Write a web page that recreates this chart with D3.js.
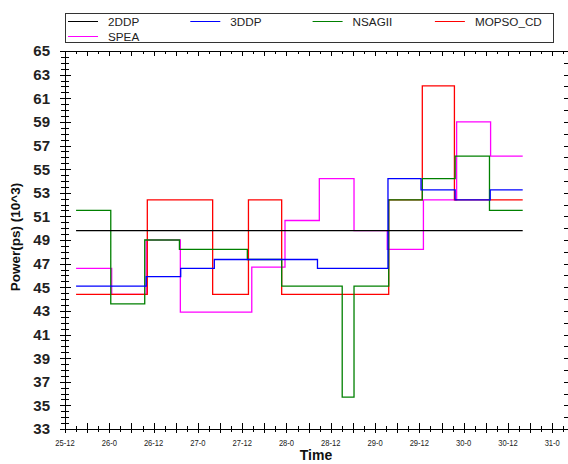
<!DOCTYPE html>
<html>
<head>
<meta charset="utf-8">
<script src="https://cdn.jsdelivr.net/npm/d3@7"></script>
<style>
  body { margin: 0; background: #fff; }
  svg { display: block; font-family: "Liberation Sans", Arial, sans-serif; }
</style>
</head>
<body>
<div id="chart"></div>
<script>
// Series names and colours, in legend order
const seriesNames = ["2DDP", "3DDP", "NSAGII", "MOPSO_CD", "SPEA"];
const seriesColors = ["#000000", "#0000ff", "#008000", "#ff0000", "#ff00ff"];

// Step lines: change times (hours after 25-12) and the level held from each time.
// The last time only closes the line.
const ddp2Times = [3.0, 124.0];
const ddp2Values = [49.8];
const ddp3Times = [3.0, 22.0, 31.35, 40.45, 68.4, 87.5, 96.45, 105.7, 115.2, 124.0];
const ddp3Values = [45.1, 45.9, 46.6, 47.35, 46.6, 54.2, 53.25, 52.4, 53.25];
const nsagaTimes = [3.0, 12.4, 21.6, 31.0, 49.4, 58.7, 75.1, 78.3, 87.7, 96.8, 105.7, 115.0, 124.0];
const nsagaValues = [51.5, 43.6, 49.0, 48.2, 47.35, 45.1, 35.7, 45.1, 52.4, 54.2, 56.1, 51.5];
const mopsoTimes = [3.0, 22.3, 40.0, 49.7, 58.7, 87.7, 96.8, 105.5, 124.0];
const mopsoValues = [44.4, 52.4, 44.4, 52.4, 44.4, 52.4, 62.05, 52.4];
const speaTimes = [3.0, 12.65, 22.0, 31.25, 50.6, 59.6, 68.9, 78.3, 87.3, 97.1, 106.1, 115.3, 124.0];
const speaValues = [46.6, 44.4, 49.0, 42.9, 46.7, 50.65, 54.2, 49.8, 48.2, 52.4, 59.0, 56.1];

// Axis ticks
const xTickHours = [0, 12, 24, 36, 48, 60, 72, 84, 96, 108, 120, 132];
const xTickLabels = ["25-12", "26-0", "26-12", "27-0", "27-12", "28-0", "28-12", "29-0", "29-12", "30-0", "30-12", "31-0"];
const yTickLabels = [33, 35, 37, 39, 41, 43, 45, 47, 49, 51, 53, 55, 57, 59, 61, 63, 65];

const W = 568, H = 464;
const plot = { left: 65, right: 567, top: 51, bottom: 429 };

const svg = d3.select("#chart").append("svg")
    .attr("width", W)
    .attr("height", H);

const x = d3.scaleLinear().domain([0, 136]).range([plot.left, plot.right]);
const y = d3.scaleLinear().domain([33, 65]).range([plot.bottom, plot.top]);

// Build series list
const series = [
    { times: ddp2Times, values: ddp2Values },
    { times: ddp3Times, values: ddp3Values },
    { times: nsagaTimes, values: nsagaValues },
    { times: mopsoTimes, values: mopsoValues },
    { times: speaTimes, values: speaValues }
].map((s, i) => ({
    name: seriesNames[i],
    color: seriesColors[i],
    points: s.times.map((t, j) => [t, s.values[Math.min(j, s.values.length - 1)]])
}));

const line = d3.line()
    .x(d => x(d[0]))
    .y(d => y(d[1]))
    .curve(d3.curveStepAfter);

// SPEA sits underneath, 2DDP on top
svg.append("g").selectAll("path")
    .data(series.slice().reverse())
    .enter()
    .append("path")
    .attr("d", d => line(d.points))
    .attr("fill", "none")
    .attr("stroke", d => d.color)
    .attr("stroke-width", 1.3);

// Axis lines
const axes = svg.append("g").attr("stroke", "#000").attr("stroke-width", 1).attr("shape-rendering", "crispEdges");
axes.append("line").attr("x1", plot.left).attr("x2", plot.left).attr("y1", plot.top).attr("y2", plot.bottom);
axes.append("line").attr("x1", plot.left).attr("x2", plot.right).attr("y1", plot.bottom).attr("y2", plot.bottom);
axes.append("line").attr("x1", plot.left - 4).attr("x2", plot.right).attr("y1", plot.top).attr("y2", plot.top);

// Left axis ticks every 0.5, crossing the axis
const yTicks = d3.range(33, 65.01, 0.5);
axes.selectAll(".ytick")
    .data(yTicks)
    .enter()
    .append("line")
    .attr("x1", d => yTickLabels.includes(d) ? plot.left - 5 : plot.left - 4)
    .attr("x2", d => yTickLabels.includes(d) ? plot.left + 6 : plot.left + 4)
    .attr("y1", d => Math.round(y(d)) + 0.5)
    .attr("y2", d => Math.round(y(d)) + 0.5);

// Right axis ticks every unit
axes.selectAll(".rtick")
    .data(d3.range(33, 65.01, 1))
    .enter()
    .append("line")
    .attr("x1", plot.right - 3)
    .attr("x2", W)
    .attr("y1", d => Math.round(y(d)) + 0.5)
    .attr("y2", d => Math.round(y(d)) + 0.5);

// Bottom and top ticks every 3 hours
const xTicks = d3.range(0, 136.01, 3);
axes.selectAll(".xtick")
    .data(xTicks)
    .enter()
    .append("line")
    .attr("x1", d => Math.round(x(d)) + 0.5)
    .attr("x2", d => Math.round(x(d)) + 0.5)
    .attr("y1", d => d % 6 === 0 ? plot.bottom - 6 : plot.bottom - 3)
    .attr("y2", d => d % 6 === 0 ? plot.bottom + 4 : plot.bottom + 3);

axes.selectAll(".ttick")
    .data(xTicks.filter(d => d > 0))
    .enter()
    .append("line")
    .attr("x1", d => Math.round(x(d)) + 0.5)
    .attr("x2", d => Math.round(x(d)) + 0.5)
    .attr("y1", plot.top)
    .attr("y2", d => d % 6 === 0 ? plot.top + 5 : plot.top + 3);

// Y tick labels
svg.append("g").selectAll("text")
    .data(yTickLabels)
    .enter()
    .append("text")
    .attr("x", 50)
    .attr("y", d => y(d))
    .attr("dy", "0.36em")
    .attr("text-anchor", "end")
    .attr("font-size", 15)
    .attr("font-weight", "bold")
    .attr("fill", "#222")
    .text(d => d);

// X tick labels (narrow)
svg.append("g").selectAll("text")
    .data(xTickHours)
    .enter()
    .append("text")
    .attr("transform", d => `translate(${x(d)},446) scale(0.8,1)`)
    .attr("text-anchor", "middle")
    .attr("font-size", 9.5)
    .attr("fill", "#222")
    .text((d, i) => xTickLabels[i]);

// Axis titles
svg.append("text")
    .attr("x", (plot.left + plot.right) / 2)
    .attr("y", 460)
    .attr("text-anchor", "middle")
    .attr("font-size", 14)
    .attr("font-weight", "bold")
    .attr("fill", "#111")
    .text("Time");

svg.append("text")
    .attr("transform", "translate(20,237) rotate(-90)")
    .attr("text-anchor", "middle")
    .attr("font-size", 13.5)
    .attr("font-weight", "bold")
    .attr("fill", "#111")
    .text("Power(ps) (10^3)");

// Legend
const legend = svg.append("g");
legend.append("rect")
    .attr("x", 65.5)
    .attr("y", 13.5)
    .attr("width", 488)
    .attr("height", 29)
    .attr("fill", "#fff")
    .attr("stroke", "#333");

const items = legend.selectAll(".item")
    .data(series)
    .enter()
    .append("g")
    .attr("transform", (d, i) => `translate(${68 + (i % 4) * 122.3},${21.5 + Math.floor(i / 4) * 15})`);

items.append("line")
    .attr("x1", 0)
    .attr("x2", 30)
    .attr("stroke", d => d.color)
    .attr("stroke-width", 1);

items.append("text")
    .attr("x", 40)
    .attr("dy", "0.36em")
    .attr("font-size", 11.7)
    .attr("fill", "#222")
    .text(d => d.name);
</script>
</body>
</html>
